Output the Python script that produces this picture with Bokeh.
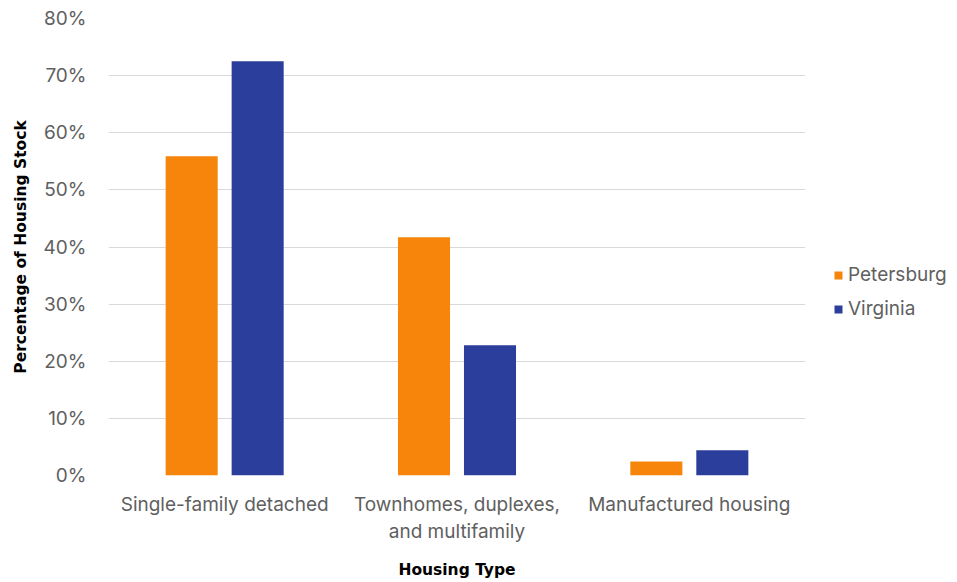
from bokeh.plotting import figure
from bokeh.models import Range1d, Legend, LegendItem, PrintfTickFormatter, FixedTicker, ColumnDataSource
from bokeh.transform import dodge
from bokeh.embed import file_html
from bokeh.resources import INLINE

categories = ["Single-family detached", "Townhomes, duplexes,\nand multifamily", "Manufactured housing"]
petersburg = [55.9, 41.7, 2.45]
virginia = [72.5, 22.8, 4.4]
y_ticks = [0, 10, 20, 30, 40, 50, 60, 70, 80]

ORANGE = "#F7850C"
BLUE = "#2C3E9B"
GRAY = "#606060"
FONT = "Inter"
TITLE_FONT = "DejaVu Sans"

source = ColumnDataSource(dict(cat=categories, pet=petersburg, va=virginia))

p = figure(x_range=categories, y_range=Range1d(0, 80), frame_width=697, frame_height=457,
           output_backend="svg", toolbar_location=None,
           min_border_left=108, min_border_top=18, min_border_right=140, min_border_bottom=0)

r1 = p.vbar(x=dodge("cat", -0.142, range=p.x_range), top="pet", width=0.224, source=source,
            fill_color=ORANGE, line_color=None)
r2 = p.vbar(x=dodge("cat", 0.142, range=p.x_range), top="va", width=0.224, source=source,
            fill_color=BLUE, line_color=None)

p.outline_line_color = None
p.xgrid.visible = False
p.ygrid.grid_line_color = "#d9d9d9"
p.ygrid.grid_line_width = 1

p.yaxis.ticker = FixedTicker(ticks=y_ticks)
p.yaxis.formatter = PrintfTickFormatter(format="%d%%")
for ax in (p.xaxis[0], p.yaxis[0]):
    ax.axis_line_color = None
    ax.major_tick_line_color = None
    ax.minor_tick_line_color = None
    ax.major_label_text_color = GRAY
    ax.major_label_text_font = FONT
    ax.major_label_text_font_size = "19px"
    ax.axis_label_text_font = TITLE_FONT
    ax.axis_label_text_font_style = "bold"
    ax.axis_label_text_font_size = "15.5px"
    ax.axis_label_text_color = "black"

p.yaxis.major_label_standoff = 16
p.yaxis.axis_label = "Percentage of Housing Stock"
p.yaxis.axis_label_standoff = 11
p.xaxis.major_label_standoff = 11
p.xaxis.axis_label = "Housing Type"
p.xaxis.axis_label_standoff = 15

legend = Legend(items=[LegendItem(label="Petersburg", renderers=[r1]),
                       LegendItem(label="Virginia", renderers=[r2])],
                location="top_left", margin=28, padding=0,
                title=" ", title_text_font_size="10px", title_standoff=206,
                glyph_width=10, glyph_height=10, label_height=20, spacing=11,
                label_standoff=5, border_line_color=None, background_fill_alpha=0,
                label_text_font=FONT, label_text_font_size="19px", label_text_color=GRAY)
p.add_layout(legend, "right")

open("out.html", "w").write(file_html(p, INLINE))
